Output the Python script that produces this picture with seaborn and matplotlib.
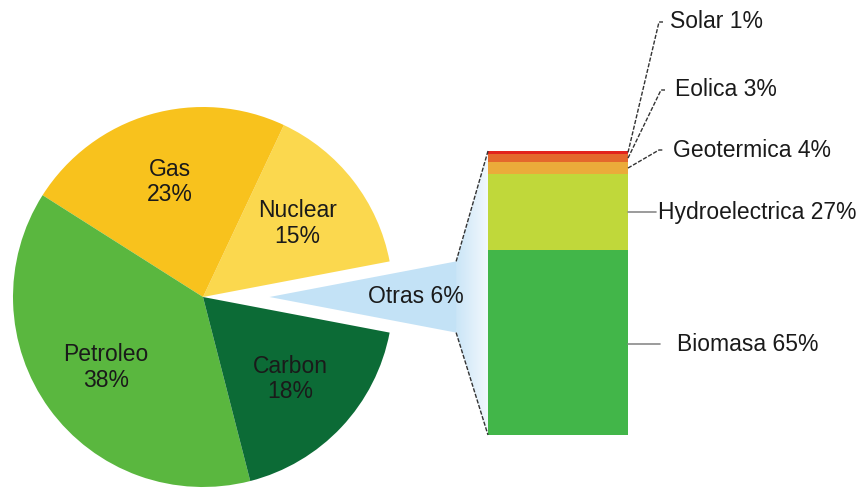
import numpy as np
import pandas as pd
import matplotlib
matplotlib.use("Agg")
import matplotlib.pyplot as plt
import seaborn as sns
from matplotlib.patches import Polygon

# ---- data ----
fuentes = ["Nuclear", "Gas", "Petroleo", "Carbon", "Otras"]
porcentajes = [15, 23, 38, 18, 6]
colores_pie = ["#fbd84e", "#f8c21d", "#5ab73f", "#0c6b36", "#c3e2f6"]

otras_fuentes = ["Biomasa", "Hydroelectrica", "Geotermica", "Eolica", "Solar"]
otras_pct = [65, 27, 4, 3, 1]
colores_bar = ["#42b649", "#c0d83a", "#ebab3a", "#e4682c", "#e2231d"]

# ---- layout (pixels of the 865x490 canvas) ----
W, H = 865, 490
R = 190
cx, cy = 203, 297
label_x = [677, 658, 673, 675, 670]
label_y = [344, 212, 150, 90, 22]
line_end_x = [660, 656, 663, 665, 663]
FS = 16.5
TXT = "#1a1a1a"

sns.set_theme(style="white")
plt.rcParams['font.family'] = ['Liberation Sans', 'DejaVu Sans']

fig = plt.figure(figsize=(W / 100, H / 100), dpi=100)
fig.patch.set_facecolor("white")

# ---- pie ----
xl, xr, yb, yt = -1.07, 1.45, -1.02, 1.02
ax_pie = fig.add_axes([(cx + xl * R) / W, ((H - cy) + yb * R) / H,
                       (xr - xl) * R / W, (yt - yb) * R / H])
explode = [0.35 if f == "Otras" else 0 for f in fuentes]
wedges, _ = ax_pie.pie(porcentajes, colors=colores_pie,
                       startangle=porcentajes[-1] * 3.6 / 2,
                       counterclock=True, explode=explode, radius=1,
                       wedgeprops=dict(linewidth=0))
ax_pie.set_xlim(xl, xr)
ax_pie.set_ylim(yb, yt)
ax_pie.set_aspect("equal")
ax_pie.axis("off")

# ---- stacked bar (seaborn, cumulative overlay) ----
ax_bar = fig.add_axes([488 / W, (H - 435) / H, 140 / W, 284 / H])
df = pd.DataFrame({"fuente": otras_fuentes, "pct": otras_pct})
df["cum"] = df["pct"].cumsum()
df["base"] = df["cum"] - df["pct"]
for i in reversed(range(len(df))):
    sns.barplot(x=["Otras"], y=[df["cum"][i]], color=colores_bar[i],
                width=1, saturation=1, ax=ax_bar, linewidth=0)
ax_bar.set_xlim(-0.5, 0.5)
ax_bar.set_ylim(0, 100)
ax_bar.axis("off")

# ---- overlay for connectors and labels ----
ax_ov = fig.add_axes([0, 0, 1, 1], zorder=5)
ax_ov.set_xlim(0, W)
ax_ov.set_ylim(H, 0)
ax_ov.axis("off")
ax_ov.patch.set_alpha(0)

ax_pie.apply_aspect()


def to_ov(ax, pts):
    return ax_ov.transData.inverted().transform(ax.transData.transform(pts))


# pie labels
for w, name, p in zip(wedges, fuentes, porcentajes):
    th = np.deg2rad((w.theta1 + w.theta2) / 2)
    if name == "Otras":
        d, s = 0.77, f"{name} {p}%"
    else:
        d, s = 0.63, f"{name}\n{p}%"
    x = w.center[0] + d * w.r * np.cos(th)
    y = w.center[1] + d * w.r * np.sin(th)
    px, py = to_ov(ax_pie, [(x, y)])[0]
    ax_ov.text(px, py, s, ha="center", va="center", fontsize=FS, color=TXT,
               linespacing=1.15, zorder=6)

wo = wedges[-1]
c = np.array(wo.center)
t1, t2 = np.deg2rad(wo.theta1), np.deg2rad(wo.theta2)
lower = c + wo.r * np.array([np.cos(t1), np.sin(t1)])
upper = c + wo.r * np.array([np.cos(t2), np.sin(t2)])
up_o, lo_o = to_ov(ax_pie, [upper, lower])
tl_o, bl_o = to_ov(ax_bar, [(-0.5, 100), (-0.5, 0)])

poly = Polygon([up_o, tl_o, bl_o, lo_o], closed=True, facecolor="none",
               edgecolor="none")
ax_ov.add_patch(poly)
grad = np.linspace(0, 1, 256)
c0 = np.array(matplotlib.colors.to_rgb("#c3e2f6"))
c1 = np.array(matplotlib.colors.to_rgb("#f2f8fd"))
img = (c0[None, :] * (1 - grad[:, None]) + c1[None, :] * grad[:, None])[None, :, :]
x0 = min(up_o[0], lo_o[0]) - 6
im = ax_ov.imshow(img, extent=(x0, tl_o[0], bl_o[1], tl_o[1]), aspect="auto",
                  interpolation="bilinear", zorder=1)
im.set_clip_path(poly)
ax_ov.set_xlim(0, W)
ax_ov.set_ylim(H, 0)

ax_ov.plot([up_o[0], tl_o[0]], [up_o[1], tl_o[1]], color="#333333", lw=1,
           ls=(0, (3, 1.2)), zorder=3)
ax_ov.plot([lo_o[0], bl_o[0]], [lo_o[1], bl_o[1]], color="#333333", lw=1,
           ls=(0, (3, 1.2)), zorder=3)

# ---- leader lines and labels ----
for i, row in df.iterrows():
    mid = row["base"] + row["pct"] / 2
    ax_x, ax_y = to_ov(ax_bar, [(0.5, mid)])[0]
    ty = label_y[i]
    ex = line_end_x[i]
    if abs(ax_y - ty) > 4:
        ax_ov.plot([ax_x, ex - 4, ex], [ax_y, ty, ty], color="#333333", lw=1,
                   ls=(0, (3, 1.2)), zorder=3)
    else:
        ax_ov.plot([ax_x, ex], [ty, ty], color="#8a8a8a", lw=1.2, zorder=3)
    ax_ov.text(label_x[i], ty, f"{row['fuente']} {row['pct']}%", ha="left",
               va="center", fontsize=FS, color=TXT)

fig.savefig("out.png", dpi=100, facecolor="white")
